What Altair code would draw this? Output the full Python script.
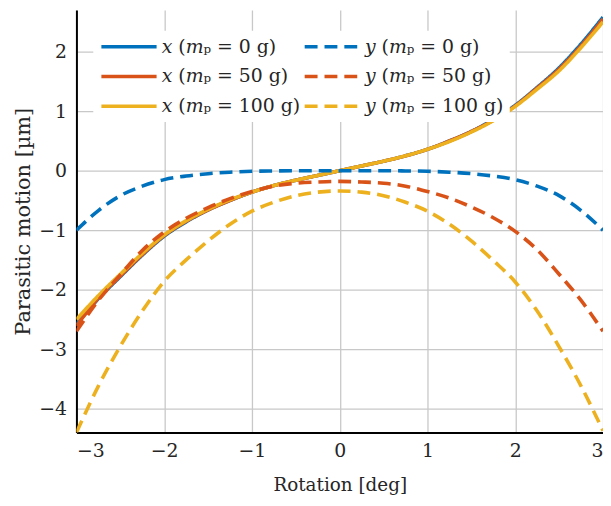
import altair as alt
import pandas as pd

# Rotation angle [deg]
theta = [-3.0, -2.75, -2.5, -2.25, -2.0, -1.75, -1.5, -1.25, -1.0, -0.75, -0.5, -0.25,
         0.0, 0.25, 0.5, 0.75, 1.0, 1.25, 1.5, 1.75, 2.0, 2.25, 2.5, 2.75, 3.0]

# Parasitic motion x [um]
x_0 = [-2.58, -2.15, -1.78, -1.42, -1.10, -0.86, -0.66, -0.50, -0.36, -0.25, -0.16, -0.08,
       0.00, 0.08, 0.16, 0.25, 0.36, 0.50, 0.66, 0.86, 1.10, 1.40, 1.73, 2.13, 2.58]
x_50 = [-2.61, -2.14, -1.77, -1.41, -1.09, -0.85, -0.66, -0.50, -0.36, -0.25, -0.16, -0.08,
        0.00, 0.08, 0.16, 0.25, 0.36, 0.50, 0.66, 0.85, 1.09, 1.39, 1.71, 2.10, 2.55]
x_100 = [-2.50, -2.10, -1.74, -1.39, -1.08, -0.84, -0.65, -0.49, -0.36, -0.25, -0.16, -0.08,
         0.00, 0.08, 0.16, 0.25, 0.36, 0.49, 0.65, 0.84, 1.08, 1.37, 1.68, 2.07, 2.50]

# Parasitic motion y [um]
y_0 = [-1.00, -0.67, -0.42, -0.26, -0.15, -0.09, -0.05, -0.025, -0.01, -0.004, 0.0, 0.0,
       0.0, 0.0, 0.0, -0.004, -0.01, -0.025, -0.05, -0.09, -0.15, -0.26, -0.42, -0.67, -1.00]
y_50 = [-2.70, -2.18, -1.75, -1.34, -1.03, -0.80, -0.62, -0.47, -0.35, -0.26, -0.21, -0.19,
        -0.18, -0.19, -0.21, -0.26, -0.35, -0.46, -0.61, -0.79, -1.02, -1.33, -1.74, -2.18, -2.70]
y_100 = [-4.40, -3.62, -2.95, -2.36, -1.86, -1.50, -1.18, -0.90, -0.68, -0.53, -0.42, -0.36,
         -0.34, -0.36, -0.42, -0.53, -0.68, -0.90, -1.18, -1.51, -1.87, -2.36, -2.96, -3.62, -4.37]

series_names = [
    "𝑥 (𝑚ₚ = 0 g)", "𝑥 (𝑚ₚ = 50 g)", "𝑥 (𝑚ₚ = 100 g)",
    "𝑦 (𝑚ₚ = 0 g)", "𝑦 (𝑚ₚ = 50 g)", "𝑦 (𝑚ₚ = 100 g)",
]
series_values = [x_0, x_50, x_100, y_0, y_50, y_100]
colors = ["#0072BD", "#D95319", "#EDB120", "#0072BD", "#D95319", "#EDB120"]
dashes = [[1, 0], [1, 0], [1, 0], [13, 7], [13, 7], [13, 7]]
widths = [3.6, 3.6, 4.2, 2.6, 2.6, 2.6]

rows = []
for name, vals in zip(series_names, series_values):
    for t, v in zip(theta, vals):
        rows.append({"theta": t, "value": v, "series": name})
df = pd.DataFrame(rows)

FONT = "DejaVu Serif"

chart = alt.Chart(df).mark_line(interpolate="monotone", clip=True).encode(
    x=alt.X("theta:Q", scale=alt.Scale(domain=[-3, 3], nice=False),
            axis=alt.Axis(title="Rotation [deg]", values=[-3, -2, -1, 0, 1, 2, 3],
                          titleFontSize=18.5, labelPadding=9, titlePadding=16)),
    y=alt.Y("value:Q", scale=alt.Scale(domain=[-4.4, 2.7], nice=False, zero=False),
            axis=alt.Axis(title="Parasitic motion [µm]", values=[-4, -3, -2, -1, 0, 1, 2],
                          titleFontSize=21, labelPadding=10, titlePadding=5)),
    color=alt.Color("series:N", scale=alt.Scale(domain=series_names, range=colors),
                    sort=series_names, legend=alt.Legend(title=None)),
    strokeDash=alt.StrokeDash("series:N", scale=alt.Scale(domain=series_names, range=dashes),
                              sort=series_names, legend=alt.Legend(title=None)),
    strokeWidth=alt.StrokeWidth("series:N", scale=alt.Scale(domain=series_names, range=widths),
                                sort=series_names, legend=alt.Legend(title=None)),
    order=alt.Order("theta:Q"),
).properties(
    width=531, height=426,
    autosize=alt.AutoSizeParams(type="none"),
    padding={"left": 69, "top": 0, "right": 0, "bottom": 64},
).configure_view(
    stroke=None,
).configure_axis(
    labelFont=FONT, titleFont=FONT, labelFontSize=19,
    labelColor="#262626", titleColor="#262626", titleFontWeight="normal",
    domainColor="#000000", domainWidth=2,
    gridColor="#c8c8c8", gridWidth=1.3,
    tickSize=0,
).configure_legend(
    orient="none", legendX=17, legendY=21,
    columns=2, symbolType="stroke", symbolSize=3100,
    labelFont=FONT, labelFontSize=19, labelColor="#262626", labelLimit=300,
    fillColor="white", padding=6, rowPadding=10, columnPadding=2, labelOffset=3,
    clipHeight=20,
)

chart.save("out.html", embed_options={"renderer": "svg", "actions": False})
